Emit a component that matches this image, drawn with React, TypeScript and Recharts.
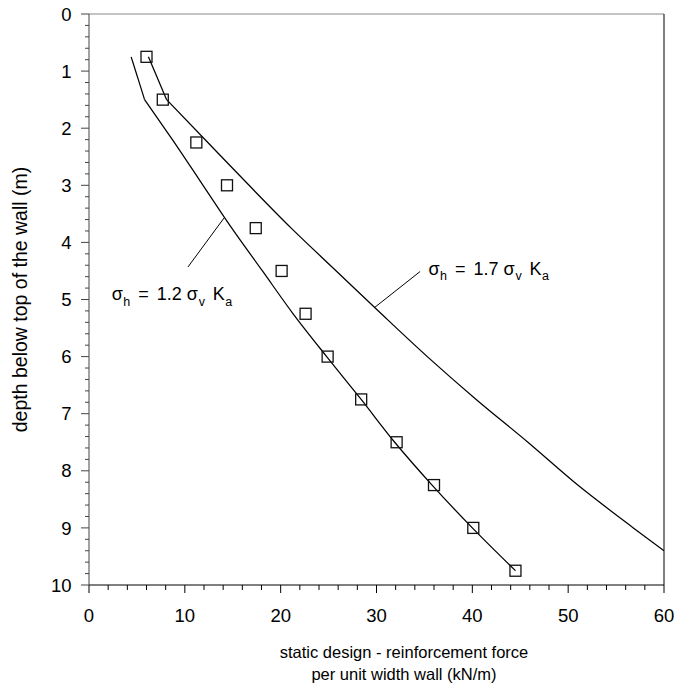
import { ScatterChart, Scatter, XAxis, YAxis, ReferenceLine, ReferenceDot, Label } from 'recharts';

// depth below top of wall (m)
const depths = [0.75, 1.5, 2.25, 3, 3.75, 4.5, 5.25, 6, 6.75, 7.5, 8.25, 9, 9.75];
// measured reinforcement force (kN/m), square markers
const measured = [6.0, 7.7, 11.2, 14.4, 17.4, 20.1, 22.6, 24.9, 28.4, 32.1, 36.0, 40.1, 44.5];
// sigma_h = 1.2 sigma_v Ka
const design12 = [4.4, 5.8, 8.9, 11.9, 14.9, 18.1, 21.3, 24.8, 28.4, 31.9, 35.8, 40.0, 44.5];
// sigma_h = 1.7 sigma_v Ka (runs off the right edge)
const depths17 = [0.75, 1.5, 2.25, 3, 3.75, 4.5, 5.25, 6, 6.75, 7.5, 8.25, 9, 9.4];
const design17 = [6.2, 8.1, 12.4, 16.7, 21.1, 25.8, 30.5, 35.3, 40.4, 45.8, 51.0, 56.8, 60];

const xMajor = [0, 10, 20, 30, 40, 50, 60];
const yMajor = [0, 1, 2, 3, 4, 5, 6, 7, 8, 9, 10];
const xTicks = Array.from({ length: 31 }, (_, i) => i * 2);
const yTicks = Array.from({ length: 51 }, (_, i) => i / 5);

const measuredPts = depths.map((d, i) => ({ x: measured[i], y: d }));
const line12Pts = depths.map((d, i) => ({ x: design12[i], y: d }));
const line17Pts = depths17.map((d, i) => ({ x: design17[i], y: d }));

const font = '"Liberation Sans", Arial, sans-serif';

// drop the default body margin so the svg can use the whole window
if (typeof document !== 'undefined') {
  document.body.style.margin = '0';
  document.body.style.overflow = 'hidden';
}

const isMajor = (v: number, majors: number[]) => majors.some((m) => Math.abs(m - v) < 1e-6);

const XTick = ({ x, y, payload }: any) => {
  const major = isMajor(payload.value, xMajor);
  return (
    <g>
      <line x1={x} x2={x} y1={y} y2={y + (major ? 8 : 5)} stroke="#000" strokeWidth={1} />
      {major && (
        <text x={x} y={y + 36.5} textAnchor="middle" fontSize={18.5} fontFamily={font} fill="#000">
          {Math.round(payload.value)}
        </text>
      )}
    </g>
  );
};

const YTick = ({ x, y, payload }: any) => {
  const major = isMajor(payload.value, yMajor);
  return (
    <g>
      <line x1={x} x2={x - (major ? 8 : 4)} y1={y} y2={y} stroke="#444" strokeWidth={1} />
      {major && (
        <text x={x - 17.5} y={y + 6.6} textAnchor="end" fontSize={18.5} fontFamily={font} fill="#000">
          {Math.round(payload.value)}
        </text>
      )}
    </g>
  );
};

const Square = ({ cx, cy }: any) => (
  <rect x={cx - 5.5} y={cy - 5.5} width={11} height={11} fill="none" stroke="#111" strokeWidth={1.3} />
);

const NoDot = () => <g />;

const Formula = ({ cx, cy, coef }: any) => (
  <text y={cy} fontFamily={font} fontSize={18} fill="#000">
    <tspan x={cx}>σ</tspan>
    <tspan x={cx + 11.5} dy={5.5} fontSize={12.5}>h</tspan>
    <tspan x={cx + 26.5} dy={-5.5}>=</tspan>
    <tspan x={cx + 45}>{coef}</tspan>
    <tspan x={cx + 75}>σ</tspan>
    <tspan x={cx + 87} dy={5.5} fontSize={12.5}>v</tspan>
    <tspan x={cx + 101} dy={-5.5}>K</tspan>
    <tspan x={cx + 113.5} dy={5.5} fontSize={12.5}>a</tspan>
  </text>
);

const curveLine = { stroke: '#000', strokeWidth: 1.25 };

export default function App() {
  return (
    <div style={{ width: 678, height: 691 }}>
      <ScatterChart
        width={678}
        height={691}
        margin={{ top: 14, right: 14, bottom: 0, left: 0 }}
        style={{ overflow: 'visible' }}
      >
        <XAxis
          type="number"
          dataKey="x"
          domain={[0, 60]}
          ticks={xTicks}
          interval={0}
          tick={<XTick />}
          tickLine={false}
          tickSize={0}
          tickMargin={0}
          height={106}
          axisLine={{ stroke: '#000', strokeWidth: 1 }}
          allowDataOverflow
        >
          <Label
            content={({ viewBox }: any) => (
              <text fontFamily={font} fontSize={16.5} fill="#000" textAnchor="middle">
                <tspan x={viewBox.x + 315} y={viewBox.y + 73}>static design - reinforcement force</tspan>
                <tspan x={viewBox.x + 315} y={viewBox.y + 95}>per unit width wall (kN/m)</tspan>
              </text>
            )}
          />
        </XAxis>
        <YAxis
          type="number"
          dataKey="y"
          domain={[0, 10]}
          reversed
          ticks={yTicks}
          interval={0}
          tick={<YTick />}
          tickLine={false}
          tickSize={0}
          tickMargin={0}
          width={89}
          axisLine={{ stroke: '#444', strokeWidth: 1 }}
          allowDataOverflow
        >
          <Label
            content={({ viewBox }: any) => {
              const cx = viewBox.x + 26.7;
              const cy = viewBox.y + viewBox.height / 2;
              return (
                <text
                  x={cx}
                  y={cy}
                  transform={`rotate(-90 ${cx} ${cy})`}
                  textAnchor="middle"
                  fontFamily={font}
                  fontSize={19.5}
                  fill="#000"
                >
                  depth below top of the wall (m)
                </text>
              );
            }}
          />
        </YAxis>
        <ReferenceLine y={0} stroke="#888" strokeWidth={1} />
        <ReferenceLine x={60} stroke="#000" strokeWidth={1} />
        {/* short straight top piece, then a smooth curve below the kink at 1.5 m */}
        <Scatter data={line12Pts.slice(0, 2)} line={curveLine} shape={<NoDot />} isAnimationActive={false} />
        <Scatter
          data={line12Pts.slice(1)}
          line={curveLine}
          lineJointType="monotoneY"
          shape={<NoDot />}
          isAnimationActive={false}
        />
        <Scatter data={line17Pts.slice(0, 2)} line={curveLine} shape={<NoDot />} isAnimationActive={false} />
        <Scatter
          data={line17Pts.slice(1)}
          line={curveLine}
          lineJointType="monotoneY"
          shape={<NoDot />}
          isAnimationActive={false}
        />
        <Scatter data={measuredPts} shape={<Square />} isAnimationActive={false} />
        <ReferenceLine
          segment={[{ x: 14.1, y: 3.57 }, { x: 10.33, y: 4.43 }]}
          stroke="#000"
          strokeWidth={1}
        />
        <ReferenceLine
          segment={[{ x: 29.8, y: 5.14 }, { x: 34.55, y: 4.51 }]}
          stroke="#000"
          strokeWidth={1}
        />
        <ReferenceDot x={2.37} y={5.01} r={0} shape={(p: any) => <Formula cx={p.cx} cy={p.cy} coef="1.2" />} />
        <ReferenceDot x={35.42} y={4.57} r={0} shape={(p: any) => <Formula cx={p.cx} cy={p.cy} coef="1.7" />} />
      </ScatterChart>
    </div>
  );
}
